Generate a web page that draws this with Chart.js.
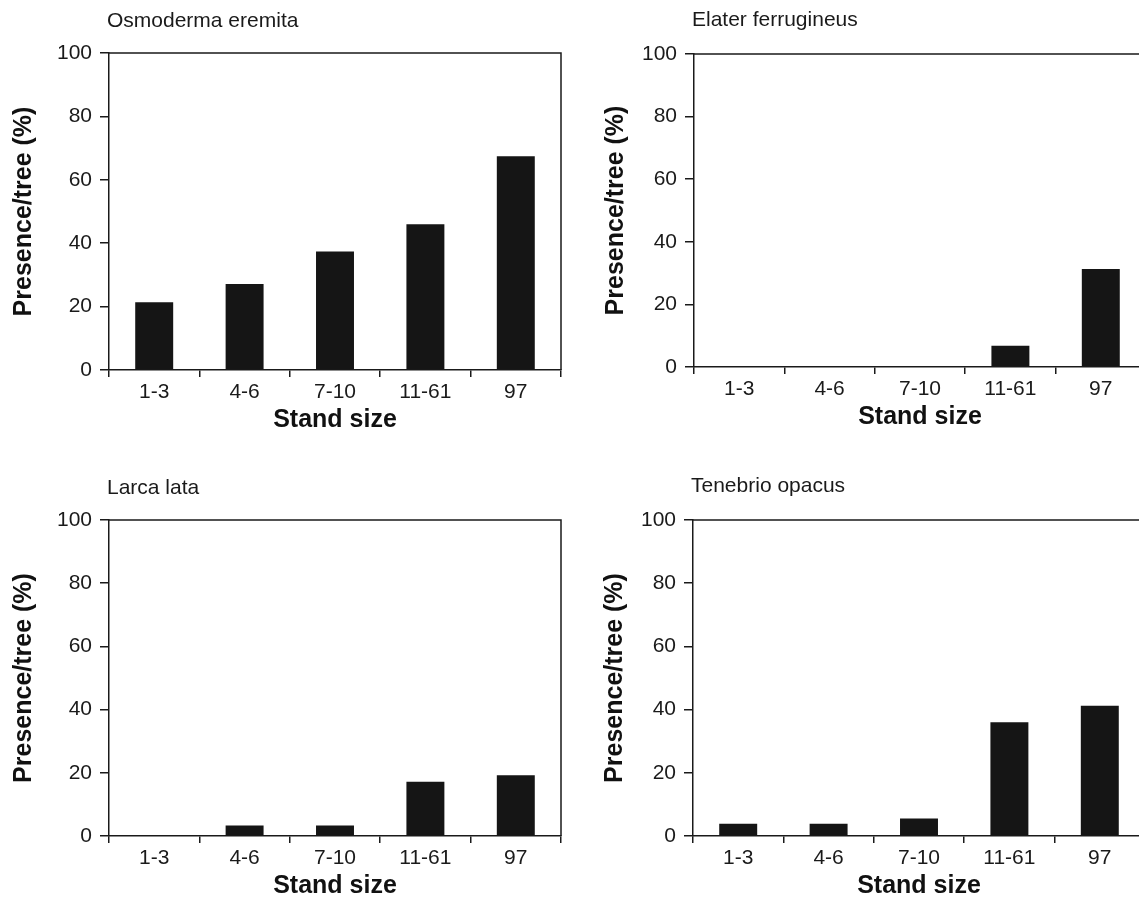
<!DOCTYPE html>
<html>
<head>
<meta charset="utf-8">
<title>Presence per tree by stand size</title>
<script src="https://cdn.jsdelivr.net/npm/chart.js@4/dist/chart.umd.min.js"></script>
<style>
    html, body {
        margin: 0;
        padding: 0;
        background: #ffffff;
        overflow: hidden;
    }
    #page {
        position: relative;
        width: 1139px;
        height: 906px;
        overflow: hidden;
    }
    canvas {
        position: absolute;
    }
</style>
</head>
<body>
<div id="page">
    <canvas id="osmodermaChart" width="570" height="450" style="left:0px;top:0px"></canvas>
    <canvas id="elaterChart" width="570" height="450" style="left:585px;top:0px"></canvas>
    <canvas id="larcaChart" width="570" height="456" style="left:0px;top:450px"></canvas>
    <canvas id="tenebrioChart" width="570" height="456" style="left:584px;top:450px"></canvas>
</div>
<script>
// Chart data
const standSizes = ['1-3', '4-6', '7-10', '11-61', '97'];
const osmodermaValues = [21.4, 27.1, 37.4, 46.0, 67.4];
const elaterValues = [0, 0, 0, 6.8, 31.3];
const larcaValues = [0, 3.3, 3.3, 17.2, 19.2];
const tenebrioValues = [3.9, 3.9, 5.5, 36.0, 41.2];
const yMin = 0;
const yMax = 100;
const yStep = 20;
const yAxisTitle = 'Presence/tree (%)';
const xAxisTitle = 'Stand size';

const ink = '#1a1a1a';
const fontFamily = '"Liberation Sans", Arial, Helvetica, sans-serif';

// Draws the species name and the top/right frame lines
const framePlugin = {
    id: 'frame',
    afterDraw(chart, args, opts) {
        const { ctx, chartArea } = chart;
        ctx.save();
        ctx.strokeStyle = ink;
        ctx.lineWidth = 1.5;
        ctx.beginPath();
        ctx.moveTo(chartArea.left, chartArea.top);
        ctx.lineTo(chartArea.right, chartArea.top);
        ctx.lineTo(chartArea.right, chartArea.bottom);
        ctx.stroke();

        ctx.fillStyle = '#1a1a1a';
        ctx.font = '21px ' + fontFamily;
        ctx.textAlign = 'left';
        ctx.textBaseline = 'middle';
        ctx.fillText(opts.text, chartArea.left - 2, opts.y);
        ctx.restore();
    }
};

function makeChart(canvasId, species, values, layout) {
    const canvas = document.getElementById(canvasId);
    if (!canvas) return null;
    const plotBottom = layout.bottom;
    const xHeight = 70;

    return new Chart(canvas.getContext('2d'), {
        type: 'bar',
        data: {
            labels: standSizes,
            datasets: [{
                label: species,
                data: values,
                backgroundColor: '#151515',
                borderWidth: 0,
                barPercentage: 0.42,
                categoryPercentage: 1.0
            }]
        },
        options: {
            responsive: false,
            animation: false,
            devicePixelRatio: 1,
            layout: {
                padding: {
                    top: layout.top,
                    left: 0,
                    right: 9,
                    bottom: canvas.height - xHeight - plotBottom
                }
            },
            plugins: {
                legend: { display: false },
                tooltip: { enabled: false },
                title: { display: false },
                frame: { text: species, y: layout.titleY }
            },
            scales: {
                x: {
                    offset: true,
                    afterFit: scale => { scale.height = xHeight; },
                    grid: {
                        display: true,
                        offset: true,
                        drawOnChartArea: false,
                        tickLength: 7,
                        color: ink,
                        lineWidth: 1.5
                    },
                    border: { display: true, color: ink, width: 1.5 },
                    ticks: {
                        color: '#1a1a1a',
                        padding: 3,
                        font: { family: fontFamily, size: 21 }
                    },
                    title: {
                        display: true,
                        text: xAxisTitle,
                        color: '#111111',
                        padding: { top: 0, bottom: 5 },
                        font: { family: fontFamily, size: 25, weight: 'bold' }
                    }
                },
                y: {
                    min: yMin,
                    max: yMax,
                    afterFit: scale => { scale.width = 109; },
                    grid: {
                        display: true,
                        drawOnChartArea: false,
                        tickLength: 9,
                        color: ink,
                        lineWidth: 1.5
                    },
                    border: { display: true, color: ink, width: 1.5 },
                    ticks: {
                        stepSize: yStep,
                        color: '#1a1a1a',
                        padding: 8,
                        font: { family: fontFamily, size: 21 }
                    },
                    title: {
                        display: true,
                        text: yAxisTitle,
                        color: '#111111',
                        padding: { top: layout.yTitlePad, bottom: 0 },
                        font: { family: fontFamily, size: 25, weight: 'bold' }
                    }
                }
            }
        },
        plugins: [framePlugin]
    });
}

function init() {
    makeChart('osmodermaChart', 'Osmoderma eremita', osmodermaValues,
        { top: 53, bottom: 370, titleY: 21, yTitlePad: 9 });
    makeChart('elaterChart', 'Elater ferrugineus', elaterValues,
        { top: 54, bottom: 367, titleY: 20, yTitlePad: 16 });
    makeChart('larcaChart', 'Larca lata', larcaValues,
        { top: 70, bottom: 386, titleY: 38, yTitlePad: 9 });
    makeChart('tenebrioChart', 'Tenebrio opacus', tenebrioValues,
        { top: 70, bottom: 386, titleY: 36, yTitlePad: 16 });
}

init();
</script>
</body>
</html>
